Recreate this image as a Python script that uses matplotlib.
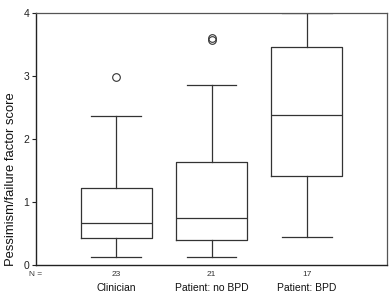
import matplotlib
matplotlib.use("Agg")
import matplotlib.pyplot as plt

plt.rcParams['font.family'] = ['Liberation Sans', 'DejaVu Sans']

groups = ["Clinician", "Patient: no BPD", "Patient: BPD"]
counts = [23, 21, 17]
whislo = [0.12, 0.12, 0.45]
q1 = [0.43, 0.40, 1.42]
med = [0.67, 0.75, 2.38]
q3 = [1.22, 1.63, 3.46]
whishi = [2.37, 2.85, 4.0]
outliers = [[2.98], [3.57, 3.61], []]

stats = []
for i in range(len(groups)):
    stats.append(dict(whislo=whislo[i], q1=q1[i], med=med[i], q3=q3[i],
                      whishi=whishi[i], fliers=outliers[i], label=groups[i]))

fig = plt.figure(figsize=(3.9, 2.97), dpi=100)
ax = fig.add_axes([36/390, 1-265/297, (387-36)/390, (265-13)/297])

lc = '#333333'
ax.bxp(stats, positions=[1, 2, 3], widths=0.745, showfliers=True,
       boxprops=dict(color=lc, linewidth=0.9),
       medianprops=dict(color=lc, linewidth=0.9),
       whiskerprops=dict(color=lc, linewidth=0.9),
       capprops=dict(color=lc, linewidth=0.9),
       capwidths=0.52,
       flierprops=dict(marker='o', markerfacecolor='none', markeredgecolor=lc,
                       markersize=5.5, markeredgewidth=0.8))

ax.set_xlim(0.16, 3.84)
ax.set_ylim(0, 4)
ax.set_yticks([0, 1, 2, 3, 4])
ax.set_yticklabels(['0', '1', '2', '3', '4'], fontsize=7.5)
ax.tick_params(axis='y', length=3, width=0.8, pad=2, colors='#222222')
ax.set_xticks([])
for s in ['left', 'bottom']:
    ax.spines[s].set_color('#222222')
    ax.spines[s].set_linewidth(1.0)
for s in ['top', 'right']:
    ax.spines[s].set_color('#555555')
    ax.spines[s].set_linewidth(0.9)

fig.text(11/390, 1-179/297, 'Pessimism/failure factor score', fontsize=9.4,
         rotation=90, ha='center', va='center', color='#111111')

# N row and group labels
trans = ax.get_xaxis_transform()
ax.text(0.0, -0.036, 'N =', transform=ax.transAxes, fontsize=6,
        ha='center', va='center', color='#333333')
for i, (n, g) in enumerate(zip(counts, groups)):
    ax.text(i + 1, -0.036, str(n), transform=trans, fontsize=6,
            ha='center', va='center', color='#333333')
    ax.text(i + 1, -0.092, g, transform=trans, fontsize=7.5,
            ha='center', va='center', color='#111111')

fig.savefig('out.png', dpi=100)
